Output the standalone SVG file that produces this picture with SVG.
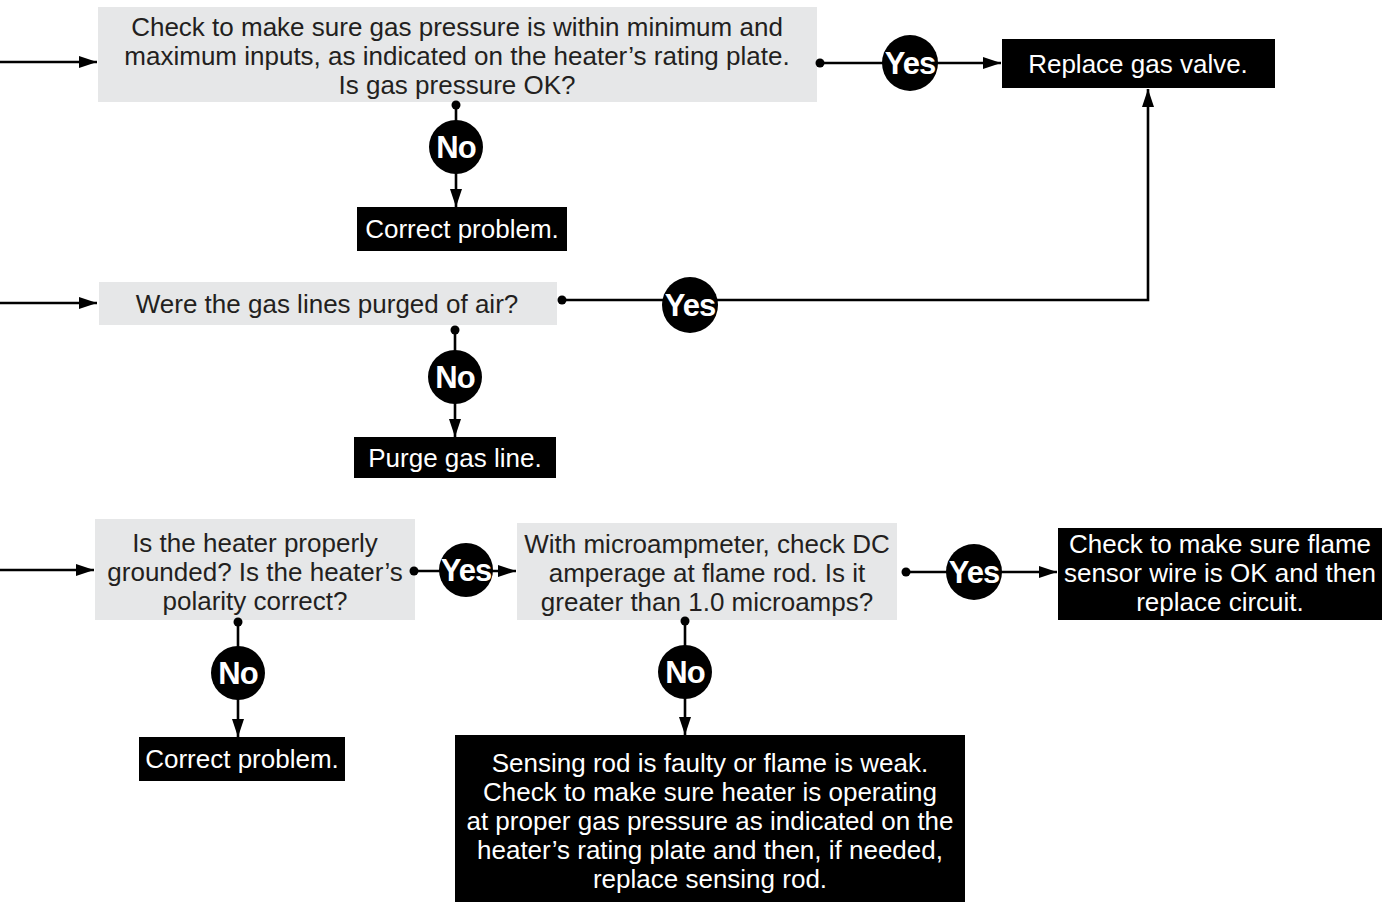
<svg xmlns="http://www.w3.org/2000/svg" width="1382" height="902" viewBox="0 0 1382 902">
<style>
.q{fill:#e6e7e8}
.a{fill:#000}
.t{font-family:"Liberation Sans",Arial,sans-serif;font-size:26px;text-anchor:middle}
.tq{fill:#231f20}
.tw{fill:#fff}
.l{font-family:"Liberation Sans",Arial,sans-serif;font-size:31px;font-weight:bold;fill:#fff;text-anchor:middle;letter-spacing:-1px}
.c{stroke:#000;stroke-width:2.6;fill:none}
</style>
<defs>
<marker id="ah" viewBox="0 0 18 12" refX="18" refY="6" markerWidth="18" markerHeight="12" markerUnits="userSpaceOnUse" orient="auto">
<path d="M0,0 L18,6 L0,12 Z" fill="#000"/>
</marker>
</defs>
<rect width="1382" height="902" fill="#fff"/>
<g id="q1">
<rect class="q" x="98" y="7" width="719" height="95"/>
<text class="t tq" x="457" y="36">Check to make sure gas pressure is within minimum and</text>
<text class="t tq" x="457" y="65">maximum inputs, as indicated on the heater’s rating plate.</text>
<text class="t tq" x="457" y="94">Is gas pressure OK?</text>
</g>
<g id="r1">
<rect class="a" x="1002" y="39" width="273" height="49"/>
<text class="t tw" x="1138" y="73">Replace gas valve.</text>
</g>
<g id="r2">
<rect class="a" x="357" y="207" width="210" height="44"/>
<text class="t tw" x="462" y="238">Correct problem.</text>
</g>
<g id="q2">
<rect class="q" x="99" y="282" width="458" height="43"/>
<text class="t tq" x="327" y="313">Were the gas lines purged of air?</text>
</g>
<g id="r3">
<rect class="a" x="354" y="437" width="202" height="41"/>
<text class="t tw" x="455" y="467">Purge gas line.</text>
</g>
<g id="q3">
<rect class="q" x="95" y="519" width="320" height="101"/>
<text class="t tq" x="255" y="552">Is the heater properly</text>
<text class="t tq" x="255" y="581">grounded? Is the heater’s</text>
<text class="t tq" x="255" y="610">polarity correct?</text>
</g>
<g id="q4">
<rect class="q" x="517" y="523" width="380" height="97"/>
<text class="t tq" x="707" y="553">With microampmeter, check DC</text>
<text class="t tq" x="707" y="582">amperage at flame rod. Is it</text>
<text class="t tq" x="707" y="611">greater than 1.0 microamps?</text>
</g>
<g id="r4">
<rect class="a" x="1058" y="528" width="324" height="92"/>
<text class="t tw" x="1220" y="553">Check to make sure flame</text>
<text class="t tw" x="1220" y="582">sensor wire is OK and then</text>
<text class="t tw" x="1220" y="611">replace circuit.</text>
</g>
<g id="r5">
<rect class="a" x="139" y="737" width="206" height="44"/>
<text class="t tw" x="242" y="768">Correct problem.</text>
</g>
<g id="r6">
<rect class="a" x="455" y="735" width="510" height="167"/>
<text class="t tw" x="710" y="772">Sensing rod is faulty or flame is weak.</text>
<text class="t tw" x="710" y="801">Check to make sure heater is operating</text>
<text class="t tw" x="710" y="830">at proper gas pressure as indicated on the</text>
<text class="t tw" x="710" y="859">heater’s rating plate and then, if needed,</text>
<text class="t tw" x="710" y="888">replace sensing rod.</text>
</g>
<g id="connectors">
<path class="c" d="M0,62 H97" marker-end="url(#ah)"/>
<path class="c" d="M820,63 H1001" marker-end="url(#ah)"/>
<circle cx="820" cy="63" r="4.5"/>
<path class="c" d="M456,105 V207" marker-end="url(#ah)"/>
<circle cx="456" cy="105" r="4.5"/>
<path class="c" d="M0,303 H97" marker-end="url(#ah)"/>
<path class="c" d="M562,300 H1148 V89" marker-end="url(#ah)"/>
<circle cx="562" cy="300" r="4.5"/>
<path class="c" d="M455,330 V437" marker-end="url(#ah)"/>
<circle cx="455" cy="330" r="4.5"/>
<path class="c" d="M0,570 H94" marker-end="url(#ah)"/>
<path class="c" d="M414,571 H516" marker-end="url(#ah)"/>
<circle cx="414" cy="571" r="4.5"/>
<path class="c" d="M906,572 H1057" marker-end="url(#ah)"/>
<circle cx="906" cy="572" r="4.5"/>
<path class="c" d="M238,622 V737" marker-end="url(#ah)"/>
<circle cx="238" cy="622" r="4.5"/>
<path class="c" d="M685,621 V735" marker-end="url(#ah)"/>
<circle cx="685" cy="621" r="4.5"/>
</g>
<g id="yes1"><circle cx="910" cy="63" r="28"/><text class="l" x="910" y="74">Yes</text></g>
<g id="no1"><circle cx="456" cy="147" r="27"/><text class="l" x="456" y="158">No</text></g>
<g id="yes2"><circle cx="690" cy="305" r="28"/><text class="l" x="690" y="316">Yes</text></g>
<g id="no2"><circle cx="455" cy="377" r="27"/><text class="l" x="455" y="388">No</text></g>
<g id="yes3"><circle cx="466" cy="570" r="27"/><text class="l" x="466" y="581">Yes</text></g>
<g id="yes4"><circle cx="974" cy="572" r="28"/><text class="l" x="974" y="583">Yes</text></g>
<g id="no3"><circle cx="238" cy="673" r="27"/><text class="l" x="238" y="684">No</text></g>
<g id="no4"><circle cx="685" cy="672" r="27"/><text class="l" x="685" y="683">No</text></g>
</svg>
